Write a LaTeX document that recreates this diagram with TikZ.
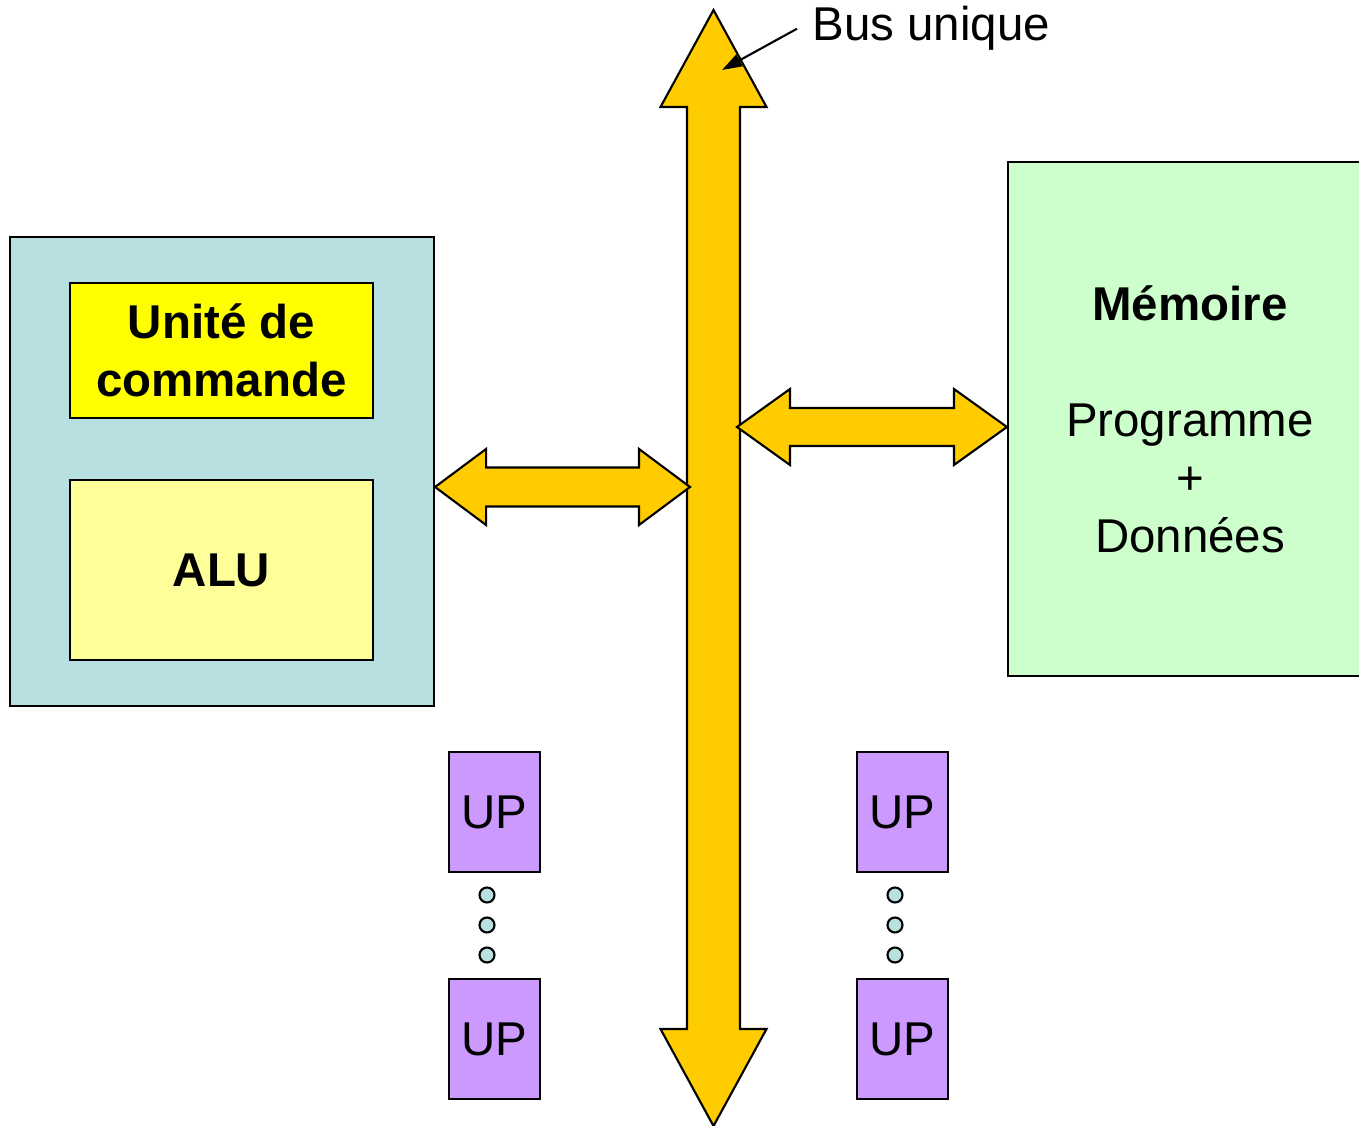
\documentclass[tikz,border=0pt]{standalone}
\usepackage{fontspec}
\setmainfont{Liberation Sans}
\usetikzlibrary{arrows.meta,calc}

\definecolor{cpufill}{RGB}{185,224,225}
\definecolor{cmdfill}{RGB}{255,255,0}
\definecolor{alufill}{RGB}{255,255,153}
\definecolor{memfill}{RGB}{204,255,204}
\definecolor{busfill}{RGB}{255,204,0}
\definecolor{upfill}{RGB}{204,153,255}

% double fleche pleine : #1 depart, #2 arrivee, #3 longueur tete, #4 demi-largeur tete, #5 demi-largeur tige
\newcommand{\dblarrow}[5]{%
  \filldraw[buspath] (#1)
    -- ($(#1)!#3!(#2)!#4!90:(#2)$) -- ($(#1)!#3!(#2)!#5!90:(#2)$)
    -- ($(#2)!#3!(#1)!#5!-90:(#1)$) -- ($(#2)!#3!(#1)!#4!-90:(#1)$)
    -- (#2)
    -- ($(#2)!#3!(#1)!#4!90:(#1)$) -- ($(#2)!#3!(#1)!#5!90:(#1)$)
    -- ($(#1)!#3!(#2)!#5!-90:(#2)$) -- ($(#1)!#3!(#2)!#4!-90:(#2)$)
    -- cycle;}

\begin{document}
\begin{tikzpicture}[
    >=Stealth,
    font=\fontsize{13.5}{16.5}\selectfont,
    buspath/.style={draw, fill=busfill, line width=0.6pt, line join=miter},
    box/.style={draw, line width=0.6pt, align=center, inner sep=0pt},
    unit/.style={box, fill=#1, font=\fontsize{13.5}{16.5}\selectfont\bfseries},
    upbox/.style={box, fill=upfill, minimum width=0.91cm, minimum height=1.20cm},
    dot/.style={circle, draw, fill=cpufill, line width=0.6pt, minimum size=0.15cm, inner sep=0pt},
    ptr/.style={-{Triangle[length=0.2cm,width=0.13cm]}, line width=0.6pt}
]
\useasboundingbox (0,0) rectangle (13.59,-11.26);

% =========================================================
% PROCESSEUR
% =========================================================
\node[box, fill=cpufill, minimum width=4.24cm, minimum height=4.69cm] (cpu) at (2.22,-4.715) {};
\node[unit=cmdfill, minimum width=3.03cm, minimum height=1.35cm] (cmd) at (2.215,-3.505)
{Unité de\\commande};
\node[unit=alufill, minimum width=3.03cm, minimum height=1.80cm] (alu) at (2.215,-5.70)
{ALU};

% =========================================================
% MEMOIRE (coupee par le bord droit)
% =========================================================
\node[box, fill=memfill, minimum width=3.64cm, minimum height=5.14cm] (mem) at (11.90,-4.19)
{\textbf{Mémoire}\\[16.5pt]Programme\\+\\Données};

% =========================================================
% BUS UNIQUE
% =========================================================
\coordinate (bustop) at (7.135,-0.10);
\coordinate (busbot) at (7.135,-11.26);
\dblarrow{bustop}{busbot}{0.97cm}{0.53cm}{0.265cm}

\coordinate (busL) at (6.90,-4.87);
\coordinate (busR) at (7.37,-4.27);
\coordinate (cpuport) at (cpu.east |- busL);
\coordinate (memport) at (mem.west |- busR);
\dblarrow{cpuport}{busL}{0.51cm}{0.38cm}{0.195cm}
\dblarrow{busR}{memport}{0.53cm}{0.38cm}{0.19cm}

% ------------------- UP -------------------
\node[upbox] (up1) at (4.945,-8.12) {UP};
\node[upbox] (up2) at (4.945,-10.39) {UP};
\node[upbox] (up3) at (9.025,-8.12) {UP};
\node[upbox] (up4) at (9.025,-10.39) {UP};

\foreach \y [count=\i] in {-8.95,-9.25,-9.55} {
  \node[dot] (dl\i) at (4.87,\y) {};
  \node[dot] (dr\i) at (8.95,\y) {};
}

% ------------------- ETIQUETTE -------------------
\node[anchor=base west, inner sep=0pt] (buslabel) at (8.12,-0.41) {Bus unique};
\coordinate (bushead) at (7.22,-0.70);
\draw[ptr] ([xshift=-0.15cm]buslabel.west) -- (bushead);

\end{tikzpicture}
\end{document}
